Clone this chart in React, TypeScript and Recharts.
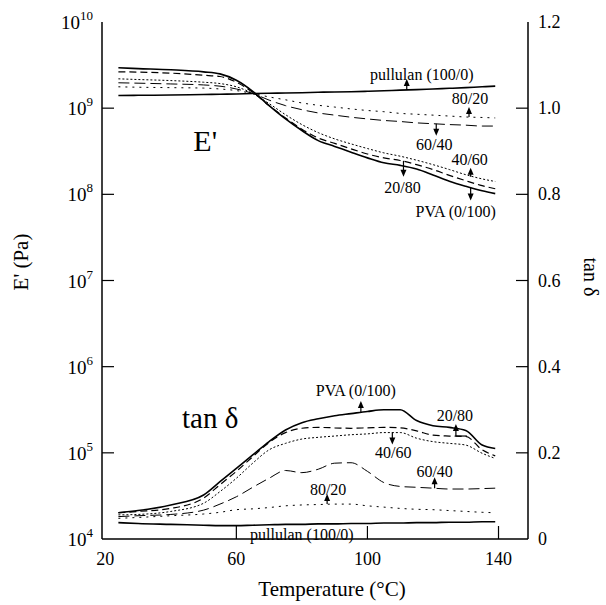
import React from 'react';
import { LineChart, Line, XAxis, YAxis, ReferenceDot } from 'recharts';

const FONT = '"Liberation Serif", "Times New Roman", serif';

// temperature grid (°C)
const temps = [24, 30, 40, 50, 55, 60, 65, 70, 75, 80, 85, 90, 95, 100, 105, 110, 115, 120, 125, 130, 135, 139];

// storage modulus E' (Pa)
const pvaE = [2.94e9, 2.88e9, 2.79e9, 2.64e9, 2.5e9, 2.11e9, 1.57e9, 1.07e9, 7.5e8, 5.5e8, 4.2e8, 3.6e8, 3.08e8, 2.65e8, 2.32e8, 2.17e8, 1.97e8, 1.68e8, 1.42e8, 1.24e8, 1.1e8, 1.02e8];
const b2080E = [2.64e9, 2.62e9, 2.55e9, 2.41e9, 2.33e9, 2.0e9, 1.53e9, 1.07e9, 7.7e8, 5.7e8, 4.5e8, 3.9e8, 3.37e8, 2.94e8, 2.65e8, 2.47e8, 2.21e8, 1.94e8, 1.66e8, 1.44e8, 1.26e8, 1.16e8];
const b4060E = [2.19e9, 2.15e9, 2.09e9, 2.0e9, 1.93e9, 1.77e9, 1.48e9, 1.13e9, 8.4e8, 6.45e8, 5.2e8, 4.4e8, 3.85e8, 3.4e8, 3.03e8, 2.77e8, 2.49e8, 2.21e8, 1.94e8, 1.69e8, 1.51e8, 1.41e8];
const b6040E = [1.97e9, 1.95e9, 1.91e9, 1.86e9, 1.8e9, 1.67e9, 1.48e9, 1.24e9, 1.07e9, 9.6e8, 8.8e8, 8.3e8, 7.85e8, 7.5e8, 7.2e8, 7.0e8, 6.75e8, 6.6e8, 6.45e8, 6.35e8, 6.2e8, 6.2e8];
const b8020E = [1.77e9, 1.75e9, 1.73e9, 1.71e9, 1.67e9, 1.6e9, 1.48e9, 1.35e9, 1.25e9, 1.15e9, 1.08e9, 1.03e9, 9.8e8, 9.4e8, 9.1e8, 8.7e8, 8.5e8, 8.3e8, 8.1e8, 7.9e8, 7.8e8, 7.7e8];
const pullE = [1.4e9, 1.41e9, 1.42e9, 1.44e9, 1.45e9, 1.46e9, 1.48e9, 1.49e9, 1.5e9, 1.51e9, 1.53e9, 1.54e9, 1.55e9, 1.57e9, 1.59e9, 1.62e9, 1.64e9, 1.67e9, 1.7e9, 1.73e9, 1.77e9, 1.8e9];

// loss tangent tan δ
const pvaT = [0.061, 0.066, 0.079, 0.102, 0.133, 0.164, 0.195, 0.226, 0.253, 0.27, 0.279, 0.286, 0.291, 0.296, 0.3, 0.3, 0.275, 0.263, 0.259, 0.252, 0.218, 0.21];
const b2080T = [0.061, 0.064, 0.071, 0.095, 0.126, 0.157, 0.191, 0.224, 0.247, 0.257, 0.259, 0.258, 0.257, 0.258, 0.259, 0.258, 0.251, 0.241, 0.239, 0.238, 0.207, 0.193];
const b4060T = [0.056, 0.057, 0.064, 0.083, 0.11, 0.141, 0.176, 0.207, 0.222, 0.232, 0.236, 0.239, 0.242, 0.244, 0.247, 0.247, 0.234, 0.226, 0.222, 0.218, 0.199, 0.187];
const b6040T = [0.052, 0.054, 0.057, 0.067, 0.081, 0.098, 0.12, 0.141, 0.159, 0.154, 0.162, 0.176, 0.177, 0.157, 0.131, 0.122, 0.12, 0.118, 0.116, 0.116, 0.117, 0.118];
const b8020T = [0.048, 0.05, 0.054, 0.058, 0.062, 0.068, 0.07, 0.073, 0.077, 0.079, 0.08, 0.081, 0.081, 0.077, 0.074, 0.071, 0.069, 0.068, 0.066, 0.064, 0.062, 0.061];
const pullT = [0.038, 0.036, 0.034, 0.032, 0.031, 0.031, 0.032, 0.033, 0.034, 0.034, 0.035, 0.035, 0.036, 0.036, 0.037, 0.037, 0.038, 0.038, 0.039, 0.039, 0.04, 0.04];

const xTicks = [20, 60, 100, 140];
const eTicks = [1e4, 1e5, 1e6, 1e7, 1e8, 1e9, 1e10];
const tanTicks = [0, 0.2, 0.4, 0.6, 0.8, 1.0, 1.2];

const data = temps.map((t, i) => ({
  t,
  pvaE: pvaE[i], b2080E: b2080E[i], b4060E: b4060E[i], b6040E: b6040E[i], b8020E: b8020E[i], pullE: pullE[i],
  pvaT: pvaT[i], b2080T: b2080T[i], b4060T: b4060T[i], b6040T: b6040T[i], b8020T: b8020T[i], pullT: pullT[i],
}));

const series = [
  { key: 'pvaE', axis: 'E', dash: undefined, w: 1.6 },
  { key: 'b2080E', axis: 'E', dash: '7 4', w: 1.2 },
  { key: 'b4060E', axis: 'E', dash: '2 2', w: 1 },
  { key: 'b6040E', axis: 'E', dash: '11 5', w: 1 },
  { key: 'b8020E', axis: 'E', dash: '2 5', w: 1 },
  { key: 'pullE', axis: 'E', dash: undefined, w: 1.6 },
  { key: 'pvaT', axis: 'tan', dash: undefined, w: 1.6 },
  { key: 'b2080T', axis: 'tan', dash: '7 4', w: 1.2 },
  { key: 'b4060T', axis: 'tan', dash: '2 2', w: 1 },
  { key: 'b6040T', axis: 'tan', dash: '11 5', w: 1 },
  { key: 'b8020T', axis: 'tan', dash: '2 5', w: 1 },
  { key: 'pullT', axis: 'tan', dash: undefined, w: 1.6 },
];

// curve labels: anchored at a point on the curve, arrow length and text offset in px
const notes = [
  { text: 'pullulan (100/0)', t: 112, v: 1.63e9, axis: 'E', len: -11, dx: 15, dy: -15 },
  { text: '80/20', t: 131, v: 7.9e8, axis: 'E', len: -10, dx: 1, dy: -18 },
  { text: '60/40', t: 121, v: 6.6e8, axis: 'E', len: 12, dx: -2, dy: 21 },
  { text: '40/60', t: 131.5, v: 1.6e8, axis: 'E', len: -9, dx: -1, dy: -17 },
  { text: '20/80', t: 111, v: 2.45e8, axis: 'E', len: 16, dx: -1, dy: 27 },
  { text: 'PVA (0/100)', t: 131.5, v: 1.2e8, axis: 'E', len: 13, dx: -15, dy: 24 },
  { text: "E'", t: 50.5, v: 4.2e8, axis: 'E', len: 0, dx: 0, dy: 0, size: 30 },
  { text: 'PVA (0/100)', t: 98, v: 0.295, axis: 'tan', len: -11, dx: -5, dy: -21 },
  { text: '20/80', t: 127, v: 0.239, axis: 'tan', len: -12, dx: -1, dy: -21, foot: 11 },
  { text: '40/60', t: 107.6, v: 0.247, axis: 'tan', len: 12, dx: 1, dy: 20 },
  { text: '60/40', t: 120.5, v: 0.118, axis: 'tan', len: -11, dx: 0, dy: -17 },
  { text: '80/20', t: 87.7, v: 0.081, axis: 'tan', len: -10, dx: 1, dy: -15 },
  { text: 'pullulan (100/0)', t: 80, v: 0.034, axis: 'tan', len: 0, dx: 0, dy: 10 },
  { text: 'tan δ', t: 52, v: 0.281, axis: 'tan', len: 0, dx: 0, dy: 0, size: 29 },
];

const Note = ({ cx, cy, a }: any) => {
  if (cx == null || cy == null) return null;
  const s = a.len < 0 ? -1 : 1;
  const tip = cy + a.len;
  return (
    <g>
      {a.len !== 0 && (
        <>
          <line x1={cx} y1={cy} x2={cx} y2={tip - s * 6} stroke="#000" strokeWidth={1.2} />
          <polygon points={`${cx},${tip} ${cx - 3},${tip - s * 7} ${cx + 3},${tip - s * 7}`} fill="#000" />
        </>
      )}
      {a.foot && <line x1={cx} y1={cy} x2={cx + a.foot} y2={cy} stroke="#000" strokeWidth={1.2} />}
      <text x={cx + a.dx} y={cy + a.dy} textAnchor="middle" dominantBaseline="central"
        fontSize={a.size ?? 16} fontFamily={FONT} fill="#000">{a.text}</text>
    </g>
  );
};

const XTick = ({ x, y, payload }: any) => (
  <g>
    {payload.value !== 20 && <line x1={x} x2={x} y1={y} y2={y - 13} stroke="#000" strokeWidth={1.2} />}
    <text x={x} y={y + 26} textAnchor="middle" fontSize={18} fontFamily={FONT} fill="#000">{payload.value}</text>
  </g>
);

const ETick = ({ x, y, payload }: any) => {
  const n = Math.round(Math.log10(payload.value));
  return (
    <g>
      {n !== 4 && n !== 10 && <line x1={x} x2={x + 12} y1={y} y2={y} stroke="#000" strokeWidth={1.2} />}
      <text x={x - 9} y={y + 7} textAnchor="end" fontSize={19} fontFamily={FONT} fill="#000">
        10<tspan dy={-9} fontSize={13}>{n}</tspan>
      </text>
    </g>
  );
};

const TanTick = ({ x, y, payload }: any) => (
  <g>
    {payload.value !== 0 && payload.value !== 1.2 && <line x1={x} x2={x - 12} y1={y} y2={y} stroke="#000" strokeWidth={1.2} />}
    <text x={x + 10} y={y + 6} textAnchor="start" fontSize={18} fontFamily={FONT} fill="#000">
      {payload.value === 0 ? '0' : payload.value.toFixed(1)}
    </text>
  </g>
);

const axisLine = { stroke: '#000', strokeWidth: 1.5 };

export default function App() {
  return (
    <div style={{ position: 'absolute', left: 0, top: 0, width: 606, height: 605, background: '#fff' }}>
      <LineChart width={606} height={605} data={data} margin={{ top: 22, right: 0, bottom: 0, left: 0 }}>
        <XAxis dataKey="t" type="number" domain={[19, 149]} ticks={xTicks} height={66}
          tickSize={0} tickMargin={0} tickLine={false} axisLine={axisLine} tick={<XTick />}
          label={(p: any) => (
            <text x={332} y={596} textAnchor="middle" fontSize={21} fontFamily={FONT} fill="#000">Temperature (°C)</text>
          )} />
        <XAxis xAxisId="top" orientation="top" type="number" domain={[19, 149]} height={0}
          tick={false} tickLine={false} axisLine={axisLine} />
        <YAxis yAxisId="E" scale="log" domain={[1e4, 1e10]} ticks={eTicks} width={102}
          allowDataOverflow tickSize={0} tickMargin={0} tickLine={false} axisLine={axisLine} tick={<ETick />}
          label={(p: any) => (
            <text x={28} y={262} transform="rotate(-90 28 262)" textAnchor="middle" fontSize={21} fontFamily={FONT} fill="#000">E' (Pa)</text>
          )} />
        <YAxis yAxisId="tan" orientation="right" domain={[0, 1.2]} ticks={tanTicks} width={78}
          tickSize={0} tickMargin={0} tickLine={false} axisLine={axisLine} tick={<TanTick />}
          label={(p: any) => (
            <text x={584} y={277} transform="rotate(90 584 277)" textAnchor="middle" fontSize={20} fontFamily={FONT} fill="#000">tan δ</text>
          )} />
        {series.map((s) => (
          <Line key={s.key} yAxisId={s.axis} dataKey={s.key} type="monotone" stroke="#000"
            strokeWidth={s.w} strokeDasharray={s.dash} dot={false} activeDot={false} isAnimationActive={false} />
        ))}
        {notes.map((a, i) => (
          <ReferenceDot key={i} x={a.t} y={a.v} yAxisId={a.axis} r={0}
            shape={(p: any) => <Note cx={p.cx} cy={p.cy} a={a} />} />
        ))}
      </LineChart>
    </div>
  );
}
